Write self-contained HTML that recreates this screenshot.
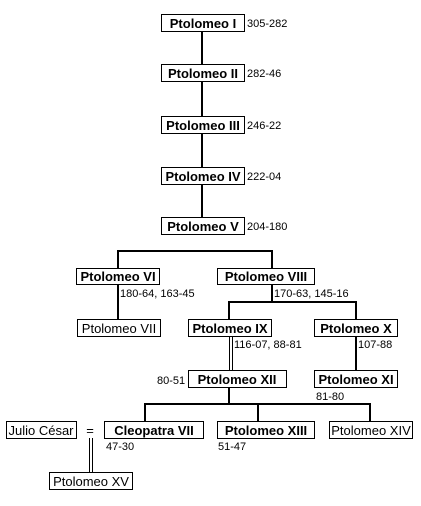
<!DOCTYPE html>
<html><head><style>body{margin:0;background:#fff}svg{display:block}</style></head><body>
<svg width="421" height="506" xmlns="http://www.w3.org/2000/svg" font-family="Liberation Sans, Arial, sans-serif">
<g stroke="#000" stroke-width="2" fill="none">
<line x1="202" y1="31" x2="202" y2="217"/>
<polyline points="118,269 118,251 272,251 272,269"/>
<line x1="118" y1="284" x2="118" y2="319"/>
<line x1="272" y1="284" x2="272" y2="302"/>
<polyline points="229,319 229,302 356,302 356,319"/>
<line x1="356" y1="336" x2="356" y2="371"/>
<line x1="229" y1="387" x2="229" y2="404"/>
<polyline points="145,421 145,404 370,404 370,421"/>
<line x1="258" y1="404" x2="258" y2="421"/>
</g>
<g stroke="#000" stroke-width="1" fill="none">
<line x1="229.5" y1="336" x2="229.5" y2="371"/><line x1="232.5" y1="336" x2="232.5" y2="371"/>
<line x1="89.5" y1="438" x2="89.5" y2="472"/><line x1="92.5" y1="438" x2="92.5" y2="472"/>
</g>
<g fill="#fff" stroke="#000" stroke-width="1">
<rect x="161.5" y="14.5" width="83" height="17"/>
<rect x="161.5" y="64.5" width="83" height="17"/>
<rect x="161.5" y="116.5" width="83" height="17"/>
<rect x="161.5" y="167.5" width="83" height="17"/>
<rect x="161.5" y="217.5" width="83" height="17"/>
<rect x="76.5" y="268.5" width="83" height="16"/>
<rect x="217.5" y="268.5" width="97" height="16"/>
<rect x="77.5" y="319.5" width="83" height="17"/>
<rect x="188.5" y="319.5" width="83" height="17"/>
<rect x="314.5" y="319.5" width="83" height="17"/>
<rect x="188.5" y="370.5" width="98" height="17"/>
<rect x="314.5" y="370.5" width="83" height="17"/>
<rect x="6.5" y="421.5" width="70" height="17"/>
<rect x="104.5" y="421.5" width="99" height="17"/>
<rect x="217.5" y="421.5" width="97" height="17"/>
<rect x="329.5" y="421.5" width="83" height="17"/>
<rect x="49.5" y="472.5" width="83" height="17"/>
</g>
<g font-size="13" font-weight="bold" text-anchor="middle">
<text x="203" y="28">Ptolomeo I</text>
<text x="203" y="78">Ptolomeo II</text>
<text x="203" y="130">Ptolomeo III</text>
<text x="203" y="181">Ptolomeo IV</text>
<text x="203" y="231">Ptolomeo V</text>
<text x="118" y="281">Ptolomeo VI</text>
<text x="266" y="281">Ptolomeo VIII</text>
<text x="230" y="333">Ptolomeo IX</text>
<text x="356" y="333">Ptolomeo X</text>
<text x="237" y="384">Ptolomeo XII</text>
<text x="356" y="384">Ptolomeo XI</text>
<text x="154" y="435">Cleopatra VII</text>
<text x="266" y="435">Ptolomeo XIII</text>
</g>
<g font-size="13" text-anchor="middle">
<text x="119" y="333">Ptolomeo VII</text>
<text x="41" y="435">Julio César</text>
<text x="371" y="435">Ptolomeo XIV</text>
<text x="91" y="486">Ptolomeo XV</text>
<text x="90" y="435">=</text>
</g>
<g font-size="11">
<text x="247" y="27">305-282</text>
<text x="247" y="77">282-46</text>
<text x="247" y="129">246-22</text>
<text x="247" y="180">222-04</text>
<text x="247" y="230">204-180</text>
<text x="120" y="297">180-64, 163-45</text>
<text x="274" y="297">170-63, 145-16</text>
<text x="234" y="348">116-07, 88-81</text>
<text x="358" y="348">107-88</text>
<text x="157" y="384">80-51</text>
<text x="316" y="400">81-80</text>
<text x="106" y="450">47-30</text>
<text x="218" y="450">51-47</text>
</g>
</svg>
</body></html>
